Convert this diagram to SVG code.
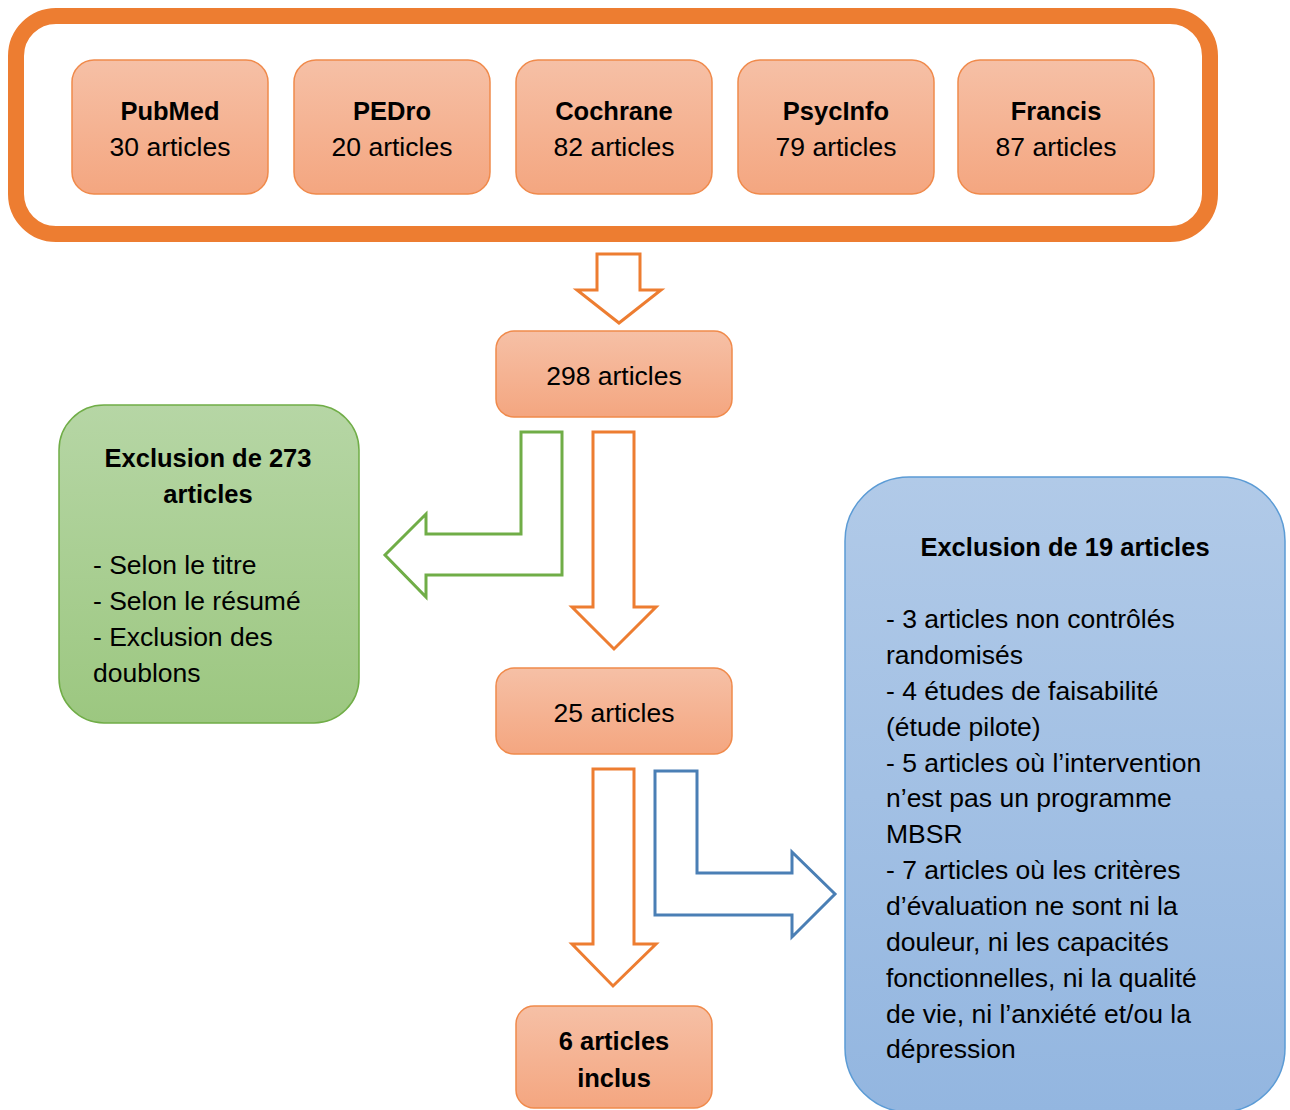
<svg xmlns="http://www.w3.org/2000/svg" width="1290" height="1110" viewBox="0 0 1290 1110">
<defs>
<linearGradient id="gOr" x1="0" y1="0" x2="0" y2="1"><stop offset="0" stop-color="#f6c0a6"/><stop offset="1" stop-color="#f4a680"/></linearGradient>
<linearGradient id="gGr" x1="0" y1="0" x2="0" y2="1"><stop offset="0" stop-color="#b6d6a5"/><stop offset="1" stop-color="#9cc780"/></linearGradient>
<linearGradient id="gBl" x1="0" y1="0" x2="0" y2="1"><stop offset="0" stop-color="#b1cae8"/><stop offset="1" stop-color="#93b6e0"/></linearGradient>
<style>
.t{font-family:"Liberation Sans",Arial,sans-serif;font-size:26.5px;fill:#000}
.b{font-family:"Liberation Sans",Arial,sans-serif;font-size:25.5px;font-weight:bold;fill:#000}
.c{text-anchor:middle}
.ob{fill:url(#gOr);stroke:#f08a4b;stroke-width:1.5}
.ao{fill:#fff;stroke:#ed7d31;stroke-width:3}
.ag{fill:#fff;stroke:#70ad47;stroke-width:3}
.ab{fill:#fff;stroke:#4a7fb5;stroke-width:3}
</style>
</defs>
<g id="sources-frame"><rect x="16" y="16" width="1194" height="218" rx="40" fill="#fff" stroke="#ed7d31" stroke-width="16"/></g>
<g id="pubmed"><rect class="ob" x="72" y="60" width="196" height="134" rx="22"/><text class="b c" x="170" y="120">PubMed</text><text class="t c" x="170" y="156">30 articles</text></g>
<g id="pedro"><rect class="ob" x="294" y="60" width="196" height="134" rx="22"/><text class="b c" x="392" y="120">PEDro</text><text class="t c" x="392" y="156">20 articles</text></g>
<g id="cochrane"><rect class="ob" x="516" y="60" width="196" height="134" rx="22"/><text class="b c" x="614" y="120">Cochrane</text><text class="t c" x="614" y="156">82 articles</text></g>
<g id="psycinfo"><rect class="ob" x="738" y="60" width="196" height="134" rx="22"/><text class="b c" x="836" y="120">PsycInfo</text><text class="t c" x="836" y="156">79 articles</text></g>
<g id="francis"><rect class="ob" x="958" y="60" width="196" height="134" rx="22"/><text class="b c" x="1056" y="120">Francis</text><text class="t c" x="1056" y="156">87 articles</text></g>
<g id="n298"><rect class="ob" x="496" y="331" width="236" height="86" rx="18"/><text class="t c" x="614" y="385">298 articles</text></g>
<g id="n25"><rect class="ob" x="496" y="668" width="236" height="86" rx="18"/><text class="t c" x="614" y="722">25 articles</text></g>
<g id="n6"><rect class="ob" x="516" y="1006" width="196" height="102" rx="18"/><text class="b c" x="614" y="1050">6 articles</text><text class="b c" x="614" y="1087">inclus</text></g>
<g id="excl273"><rect x="59" y="405" width="300" height="318" rx="45" fill="url(#gGr)" stroke="#70ad47" stroke-width="1.5"/>
<text class="b c" x="208" y="467">Exclusion de 273</text><text class="b c" x="208" y="503">articles</text>
<text class="t" x="93" y="574">- Selon le titre</text><text class="t" x="93" y="610">- Selon le résumé</text><text class="t" x="93" y="646">- Exclusion des</text><text class="t" x="93" y="682">doublons</text></g>
<g id="excl19"><rect x="845" y="477" width="440" height="635" rx="64" fill="url(#gBl)" stroke="#5b9bd5" stroke-width="1.5"/>
<text class="b c" x="1065" y="556">Exclusion de 19 articles</text>
<text class="t" x="886" y="628">- 3 articles non contrôlés</text>
<text class="t" x="886" y="664">randomisés</text>
<text class="t" x="886" y="700">- 4 études de faisabilité</text>
<text class="t" x="886" y="736">(étude pilote)</text>
<text class="t" x="886" y="772">- 5 articles où l’intervention</text>
<text class="t" x="886" y="807">n’est pas un programme</text>
<text class="t" x="886" y="843">MBSR</text>
<text class="t" x="886" y="879">- 7 articles où les critères</text>
<text class="t" x="886" y="915">d’évaluation ne sont ni la</text>
<text class="t" x="886" y="951">douleur, ni les capacités</text>
<text class="t" x="886" y="987">fonctionnelles, ni la qualité</text>
<text class="t" x="886" y="1023">de vie, ni l’anxiété et/ou la</text>
<text class="t" x="886" y="1058">dépression</text></g>
<g id="connectors">
<polygon class="ao" points="597,254 640,254 640,290 661,290 619,323 577,290 597,290"/>
<polygon class="ag" points="521,432 562,432 562,575 426,575 426,597 385,555 426,514 426,534 521,534"/>
<polygon class="ao" points="593,432 634,432 634,607 656,607 614,649 572,607 593,607"/>
<polygon class="ao" points="593,769 634,769 634,944 656,944 613,986 572,944 593,944"/>
<polygon class="ab" points="655,771 697,771 697,873 792,873 792,852 835,894 792,937 792,915 655,915"/>
</g>
</svg>
